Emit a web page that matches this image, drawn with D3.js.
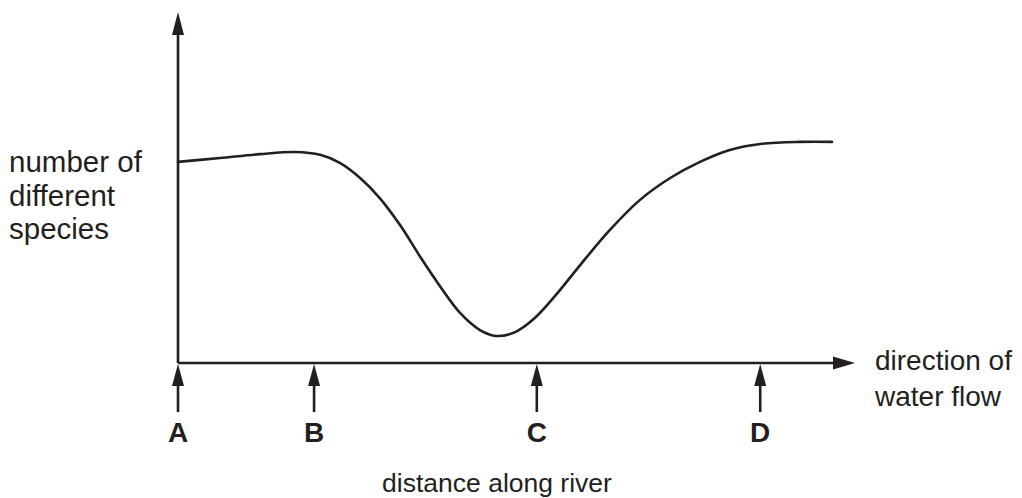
<!DOCTYPE html>
<html>
<head>
<meta charset="utf-8">
<script src="https://cdn.jsdelivr.net/npm/d3@7"></script>
<style>
  html, body { margin: 0; padding: 0; background: #fff; }
  svg { display: block; }
  text { font-family: "Liberation Sans", Arial, Helvetica, sans-serif; fill: #231f20; }
</style>
</head>
<body>
<svg id="chart" width="1022" height="498"></svg>
<script>
// ---- data ----
const distance = [0, 6.2, 12.1, 17.3, 21.0, 23.9, 26.9, 29.8, 32.8, 35.7, 38.7, 41.7, 44.6, 47.0, 49.8, 52.7, 55.7, 59.4, 63.8, 68.2, 72.7, 77.1, 81.5, 86.0, 91.9, 96.6];
const species  = [57.3, 58.4, 59.5, 60.1, 59.3, 57.0, 52.7, 47.0, 39.3, 30.5, 21.9, 14.2, 9.4, 7.7, 8.8, 12.8, 19.1, 27.9, 37.9, 46.4, 52.7, 57.3, 60.7, 62.4, 63.0, 63.0];
const siteLabels = ["A", "B", "C", "D"];
const sitePositions = [0, 20.1, 53.0, 86.0];
const yLabelLines = ["number of", "different", "species"];
const xLabelLines = ["direction of", "water flow"];
const xTitle = "distance along river";

// ---- layout ----
const ink = "#231f20";
const svg = d3.select("#chart");
const x = d3.scaleLinear().domain([0, 100]).range([178, 855]);
const y = d3.scaleLinear().domain([0, 100]).range([363, 12]);

// axes lines
svg.append("line").attr("x1", x(0)).attr("x2", x(97)).attr("y1", y(0)).attr("y2", y(0))
  .attr("stroke", ink).attr("stroke-width", 2.6);
svg.append("line").attr("x1", x(0)).attr("x2", x(0)).attr("y1", y(0)).attr("y2", y(94))
  .attr("stroke", ink).attr("stroke-width", 2.6);

// arrowheads
svg.append("path")
  .attr("d", `M${x(100)},${y(0)} L${x(100)-22},${y(0)-6.5} L${x(100)-22},${y(0)+6.5} Z`)
  .attr("fill", ink);
svg.append("path")
  .attr("d", `M${x(0)},${y(100)} L${x(0)-6},${y(100)+23} L${x(0)+6},${y(100)+23} Z`)
  .attr("fill", ink);

// site markers
const sites = svg.append("g").selectAll("g").data(sitePositions).join("g");
sites.append("line")
  .attr("x1", d => x(d)).attr("x2", d => x(d))
  .attr("y1", y(0) + 15).attr("y2", y(0) + 49)
  .attr("stroke", ink).attr("stroke-width", 2.6);
sites.append("path")
  .attr("d", d => `M${x(d)},${y(0)+1} L${x(d)-6},${y(0)+23} L${x(d)+6},${y(0)+23} Z`)
  .attr("fill", ink);
sites.append("text")
  .attr("x", d => x(d)).attr("y", 442)
  .attr("text-anchor", "middle")
  .attr("font-size", 28).attr("font-weight", "bold")
  .text((d, i) => siteLabels[i]);

// curve
const line = d3.line()
  .x((d, i) => x(distance[i]))
  .y(d => y(d))
  .curve(d3.curveCatmullRom.alpha(0.5));
svg.append("path")
  .datum(species)
  .attr("d", line)
  .attr("fill", "none")
  .attr("stroke", ink)
  .attr("stroke-width", 2.6)
  .attr("stroke-linecap", "round");

// labels
svg.append("text").attr("x", 9).attr("y", 172).attr("font-size", 29.5)
  .selectAll("tspan").data(yLabelLines).join("tspan")
  .attr("x", 9).attr("dy", (d, i) => i === 0 ? 0 : 33.5).text(d => d);

svg.append("text").attr("x", 875).attr("y", 370).attr("font-size", 28)
  .selectAll("tspan").data(xLabelLines).join("tspan")
  .attr("x", 875).attr("dy", (d, i) => i === 0 ? 0 : 36).text(d => d);

svg.append("text").attr("x", 497).attr("y", 492).attr("font-size", 26.5)
  .attr("text-anchor", "middle").text(xTitle);
</script>
</body>
</html>
